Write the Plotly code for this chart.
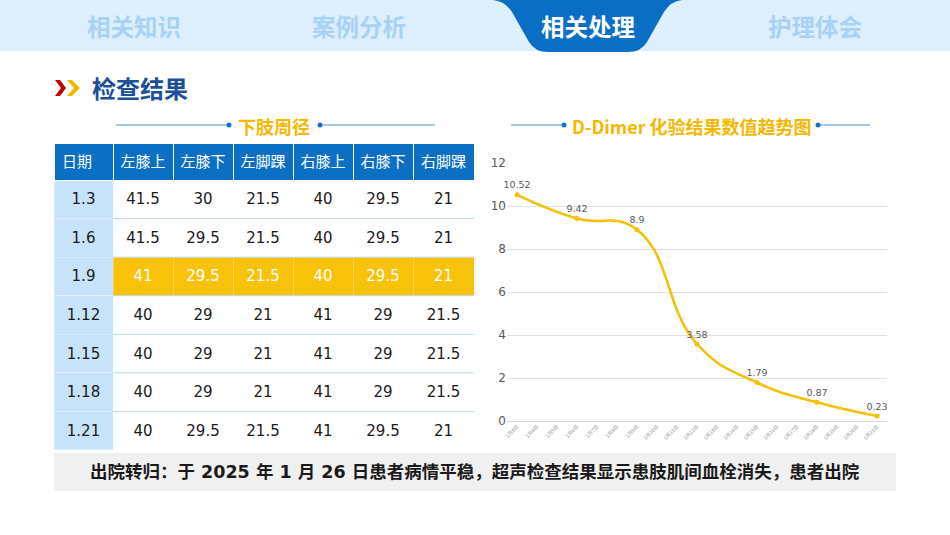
import plotly.graph_objects as go

# tabs across the top
tabs = ["相关知识", "案例分析", "相关处理", "护理体会"]
active_tab = "相关处理"

# leg circumference table (cm)
table_header = ["日期", "左膝上", "左膝下", "左脚踝", "右膝上", "右膝下", "右脚踝"]
dates = ["1.3", "1.6", "1.9", "1.12", "1.15", "1.18", "1.21"]
left_knee_up = [41.5, 41.5, 41, 40, 40, 40, 40]
left_knee_down = [30, 29.5, 29.5, 29, 29, 29, 29.5]
left_ankle = [21.5, 21.5, 21.5, 21, 21, 21, 21.5]
right_knee_up = [40, 40, 40, 41, 41, 41, 41]
right_knee_down = [29.5, 29.5, 29.5, 29, 29, 29, 29.5]
right_ankle = [21, 21, 21, 21.5, 21.5, 21.5, 21]
highlight_row = "1.9"

# D-Dimer trend
all_days = ["1月3日", "1月4日", "1月5日", "1月6日", "1月7日", "1月8日", "1月9日",
            "1月10日", "1月11日", "1月12日", "1月13日", "1月14日", "1月15日",
            "1月16日", "1月17日", "1月18日", "1月19日", "1月20日", "1月21日"]
ddimer_days = ["1月3日", "1月6日", "1月9日", "1月12日", "1月15日", "1月18日", "1月21日"]
ddimer_values = [10.52, 9.42, 8.9, 3.58, 1.79, 0.87, 0.23]

footer_text = "出院转归：于 2025 年 1 月 26 日患者病情平稳，超声检查结果显示患肢肌间血栓消失，患者出院"

W, H = 950, 535
FONT = "DejaVu Sans, Noto Sans CJK SC, sans-serif"
CJK = "Noto Sans CJK SC, sans-serif"
BLUE = "#0b70c4"
GOLD = "#f9c20a"


def py(y):
    # pixel y (from top) -> paper y
    return 1 - y / H


def px_(x):
    return x / W


fig = go.Figure()

# ---- table ----
cols = [left_knee_up, left_knee_down, left_ankle, right_knee_up, right_knee_down, right_ankle]
cell_values = [dates] + [[f"{v:g}" for v in c] for c in cols]
hi = dates.index(highlight_row)
fills = [["#c7e3f9"] * len(dates)] + [[GOLD if i == hi else "white" for i in range(len(dates))] for _ in cols]
fcolors = [["#1a1a1a"] * len(dates)] + [["white" if i == hi else "#1a1a1a" for i in range(len(dates))] for _ in cols]

tbl_top, tbl_bottom = 143, 450
tbl_left, tbl_right = 54, 474
header_h = 37
row_h = (tbl_bottom - tbl_top - header_h) / len(dates)
col_w = [59, 60, 60, 60, 60, 60, 61]
text_drop = 5  # plotly puts cell text near the top; nudge it to the middle

# background table: fills and borders only
fig.add_trace(go.Table(
    domain=dict(x=[px_(tbl_left), px_(tbl_right)], y=[py(tbl_bottom), py(tbl_top)]),
    columnwidth=col_w,
    header=dict(values=[""] * len(table_header), fill_color=BLUE,
                line=dict(color="white", width=1), height=header_h),
    cells=dict(values=[[""] * len(dates) for _ in cell_values], fill_color=fills,
               line=dict(color="rgba(255,255,255,0.3)", width=1), height=row_h),
))
# text table laid on top, slightly lower
fig.add_trace(go.Table(
    domain=dict(x=[px_(tbl_left), px_(tbl_right)],
                y=[py(tbl_bottom + text_drop), py(tbl_top + text_drop)]),
    columnwidth=col_w,
    header=dict(
        values=table_header,
        fill_color="rgba(0,0,0,0)",
        line=dict(color="rgba(0,0,0,0)", width=0),
        font=dict(family=CJK, size=15, color="white"),
        align=["left"] + ["center"] * 6,
        height=header_h,
    ),
    cells=dict(
        values=cell_values,
        fill_color="rgba(0,0,0,0)",
        line=dict(color="rgba(0,0,0,0)", width=0),
        font=dict(family=FONT, size=15, color=fcolors),
        align="center",
        height=row_h,
    ),
))

# ---- D-Dimer line ----
fig.add_trace(go.Scatter(
    x=ddimer_days, y=ddimer_values,
    mode="lines+markers+text",
    line=dict(color="#f5c000", width=2.5, shape="spline", smoothing=1.3),
    marker=dict(color="#f5c000", size=5),
    text=[f"{v:g}" for v in ddimer_values],
    textposition="top center",
    textfont=dict(family=FONT, size=9.5, color="#595959"),
    cliponaxis=False,
    hoverinfo="x+y",
    showlegend=False,
))

fig.update_xaxes(
    type="category", categoryorder="array", categoryarray=all_days,
    range=[-0.5, len(all_days) - 0.5],
    domain=[px_(507), px_(887)],
    tickmode="array", tickvals=all_days, ticktext=all_days,
    tickangle=-45, tickfont=dict(family=CJK, size=5, color="#8c8c8c"),
    showgrid=False, showline=True, linecolor="#d9d9d9", linewidth=1,
    ticks="", fixedrange=True, automargin=False,
)
fig.update_yaxes(
    range=[0, 12], dtick=2,
    domain=[py(421), py(163)],
    tickfont=dict(family=FONT, size=12, color="#595959"),
    gridcolor="#e0e0e0", gridwidth=1, zeroline=False,
    showline=False, ticks="", fixedrange=True, automargin=False,
)

shapes = []
annotations = []

# ---- top tab band ----
shapes.append(dict(type="rect", xref="paper", yref="paper",
                   x0=0, x1=1, y0=py(51), y1=1, fillcolor="#ddeefc", line_width=0, layer="below"))
tab_path = ("M 493,0 Q 505,1 512,12 L 529,42 Q 535,52 548,52 L 628,52 "
            "Q 641,52 647,42 L 664,12 Q 671,1 682,0 Z")


# convert pixel path to paper coordinates
def path_to_paper(p):
    out = []
    for tok in p.split():
        if "," in tok:
            a, b = tok.split(",")
            out.append(f"{px_(float(a)):.5f},{py(float(b)):.5f}")
        else:
            out.append(tok)
    return " ".join(out)


shapes.append(dict(type="path", xref="paper", yref="paper", path=path_to_paper(tab_path),
                   fillcolor="#0a6fc4", line_width=0, layer="below"))

tab_x = [134, 359, 588, 815]
for t, x in zip(tabs, tab_x):
    annotations.append(dict(
        x=px_(x), y=py(26), xref="paper", yref="paper", text=f"<b>{t}</b>", showarrow=False,
        font=dict(family=CJK, size=23.5, color="white" if t == active_tab else "#a8d2f5"),
        xanchor="center", yanchor="middle"))

# ---- section title ----
chev_red = "M 55,80 L 60,80 L 66,88 L 60,96 L 55,96 L 61,88 Z"
chev_yel = "M 67,80 L 72,80 L 80,88 L 72,96 L 67,96 L 74,88 Z"
shapes.append(dict(type="path", xref="paper", yref="paper", path=path_to_paper(chev_red),
                   fillcolor="#c00000", line_width=0))
shapes.append(dict(type="path", xref="paper", yref="paper", path=path_to_paper(chev_yel),
                   fillcolor="#f7b500", line_width=0))
annotations.append(dict(x=px_(90), y=py(88), xref="paper", yref="paper", text="<b>检查结果</b>",
                        showarrow=False, xanchor="left", yanchor="middle",
                        font=dict(family=CJK, size=24, color="#1b4f9a")))


# ---- subtitles with decorative lines ----
def subtitle(text, cx, l0, l1, r0, r1):
    y = py(125)
    annotations.append(dict(x=px_(cx), y=py(126), xref="paper", yref="paper", text=f"<b>{text}</b>",
                            showarrow=False, xanchor="center", yanchor="middle",
                            font=dict(family=CJK, size=18, color="#f5b800")))
    for a, b in [(l0, l1), (r0, r1)]:
        shapes.append(dict(type="line", xref="paper", yref="paper", x0=px_(a), x1=px_(b),
                           y0=y, y1=y, line=dict(color="#4a8fd0", width=1.2)))
    for d in [l1, r0]:
        shapes.append(dict(type="circle", xref="paper", yref="paper",
                           x0=px_(d - 2.5), x1=px_(d + 2.5), y0=py(127.5), y1=py(122.5),
                           fillcolor="#1a6fc4", line_width=0))


subtitle("下肢周径", 274, 116, 229, 320, 435)
subtitle("D-Dimer 化验结果数值趋势图", 692, 511, 564, 818, 870)

# ---- table row dividers ----
for i in range(1, len(dates)):
    yy = tbl_top + header_h + i * row_h
    shapes.append(dict(type="line", xref="paper", yref="paper", x0=px_(113), x1=px_(tbl_right),
                       y0=py(yy), y1=py(yy), line=dict(color="#b9d9f1", width=1)))

# ---- footer ----
shapes.append(dict(type="rect", xref="paper", yref="paper", x0=px_(54), x1=px_(896),
                   y0=py(491), y1=py(453), fillcolor="#f0f0f0", line_width=0, layer="below"))
annotations.append(dict(x=px_(475), y=py(472), xref="paper", yref="paper", text=f"<b>{footer_text}</b>",
                        showarrow=False, xanchor="center", yanchor="middle",
                        font=dict(family=FONT, size=17.5, color="#1a1a1a")))

fig.update_layout(
    width=W, height=H, autosize=False,
    margin=dict(l=0, r=0, t=0, b=0, pad=0, autoexpand=False),
    paper_bgcolor="white", plot_bgcolor="white",
    shapes=shapes, annotations=annotations,
    showlegend=False,
)

# drop the default page margin so the figure sits at the window's corner
fig.write_html("out.html", config={"displayModeBar": False},
               post_script="document.body.style.margin='0';document.body.style.padding='0';")
